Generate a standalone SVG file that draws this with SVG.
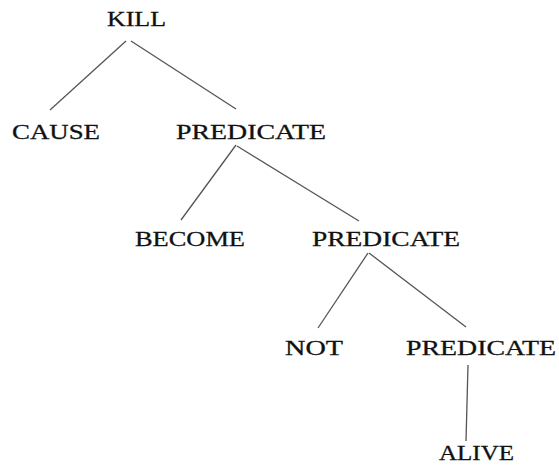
<svg xmlns="http://www.w3.org/2000/svg" width="559" height="465" viewBox="0 0 559 465">
  <style>
    .lbl { font-family: "Liberation Serif", "Times New Roman", serif; font-size: 22px; fill: #111; stroke: #111; stroke-width: 0.3; }
    .edge { stroke: #555; stroke-width: 1.3; fill: none; }
  </style>
  <rect width="559" height="465" fill="#fff"/>
  <g id="connectors">
    <line class="edge" x1="126" y1="41" x2="50" y2="110"/>
    <line class="edge" x1="131" y1="41" x2="236" y2="109"/>
    <line class="edge" x1="236" y1="145" x2="181" y2="220"/>
    <line class="edge" x1="237" y1="146" x2="359" y2="221"/>
    <line class="edge" x1="368" y1="253" x2="318" y2="328"/>
    <line class="edge" x1="369" y1="253" x2="466" y2="327"/>
    <line class="edge" x1="468" y1="365" x2="466" y2="441"/>
  </g>
  <g id="kill"><text class="lbl" x="107" y="26" textLength="59" lengthAdjust="spacingAndGlyphs">KILL</text></g>
  <g id="cause"><text class="lbl" x="12" y="139" textLength="88" lengthAdjust="spacingAndGlyphs">CAUSE</text></g>
  <g id="predicate1"><text class="lbl" x="176" y="139" textLength="150" lengthAdjust="spacingAndGlyphs">PREDICATE</text></g>
  <g id="become"><text class="lbl" x="135" y="246" textLength="110" lengthAdjust="spacingAndGlyphs">BECOME</text></g>
  <g id="predicate2"><text class="lbl" x="312" y="246" textLength="148" lengthAdjust="spacingAndGlyphs">PREDICATE</text></g>
  <g id="not"><text class="lbl" x="285" y="355" textLength="58" lengthAdjust="spacingAndGlyphs">NOT</text></g>
  <g id="predicate3"><text class="lbl" x="406" y="355" textLength="150" lengthAdjust="spacingAndGlyphs">PREDICATE</text></g>
  <g id="alive"><text class="lbl" x="439" y="460" textLength="75" lengthAdjust="spacingAndGlyphs">ALIVE</text></g>
</svg>
